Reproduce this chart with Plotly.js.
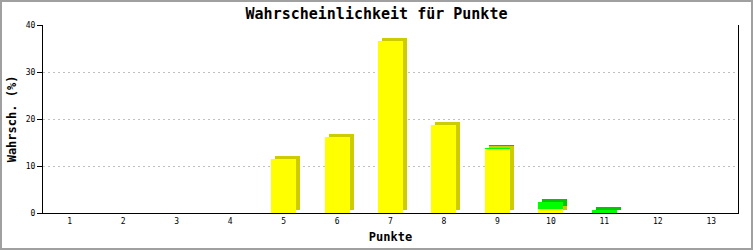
<!DOCTYPE html>
<html><head><meta charset="utf-8">
<script src="https://cdn.plot.ly/plotly-3.0.1.min.js"></script>
<style>
html,body{margin:0;padding:0;background:#fff;}
#chart{width:749px;height:246px;border:2px solid #a0a0a0;}
</style></head>
<body><div id="chart"></div>
<script>
const categories = ['1','2','3','4','5','6','7','8','9','10','11','12','13'];
const yellowValues = [0,0,0,0,11.5,16.1,36.5,18.8,13.7,0.9,0,0,0];
const greenValues  = [0,0,0,0,0,0,0,0,0.15,1.5,0.6,0,0];
const yTicks = [0,10,20,30,40];

const W = 0.467, SHIFT = 0.075;
const mono = 'DejaVu Sans Mono, monospace';

function bar(y, color, yaxis, shadow){
  return {type:'bar', x:categories, y:y, yaxis:yaxis, width:W,
    offset: shadow ? -W/2+SHIFT : -W/2,
    marker:{color:color, line:{width:0}}, hoverinfo:'skip', showlegend:false};
}
const traces = [
  bar(yellowValues,'#cccc00','y2',true),
  bar(greenValues,'#00c800','y2',true),
  bar(yellowValues,'#ffff00','y',false),
  bar(greenValues,'#00ff00','y',false)
];
const layout = {
  width:749, height:246,
  margin:{l:41,r:13,t:23,b:35},
  paper_bgcolor:'#fff', plot_bgcolor:'#fff',
  barmode:'stack', bargap:0,
  font:{family:mono, color:'#000'},
  title:{text:'<b>Wahrscheinlichkeit für Punkte</b>', font:{family:mono,size:15,color:'#000'}, x:0.5, xanchor:'center', y:0.975, yanchor:'top'},
  xaxis:{type:'category', range:[-0.5,12.5], showline:true, linecolor:'#000', linewidth:1,
    ticks:'', showgrid:false, zeroline:false, tickfont:{family:mono,size:8,color:'#000'},
    title:{text:'<b>Punkte</b>', font:{family:mono,size:12,color:'#000'}, standoff:8}},
  yaxis2:{range:[-0.64,39.36], showgrid:false, showline:false, zeroline:false, showticklabels:false, ticks:''},
  yaxis:{overlaying:'y2', range:[0,40], tickvals:yTicks, showline:true, mirror:true, linecolor:'#000', linewidth:1,
    ticks:'outside', ticklen:5, tickcolor:'#000', showgrid:true, gridcolor:'#c0c0c0', griddash:'2px,3px',
    zeroline:false, tickfont:{family:mono,size:8,color:'#000'},
    title:{text:'<b>Wahrsch. (%)</b>', font:{family:mono,size:12,color:'#000'}, standoff:6}}
};
Plotly.newPlot('chart', traces, layout, {displayModeBar:false, staticPlot:true});
</script></body></html>
